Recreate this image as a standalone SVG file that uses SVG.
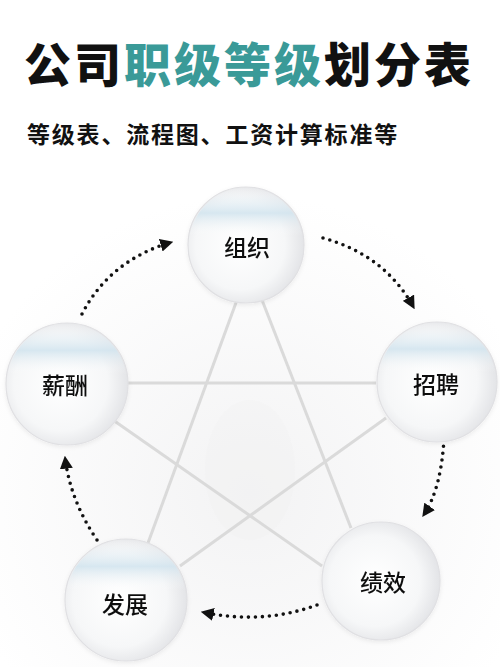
<svg xmlns="http://www.w3.org/2000/svg" width="500" height="667" viewBox="0 0 500 667">
<defs>
<style>
.title{font-family:"Noto Sans CJK SC","Noto Sans",sans-serif;font-weight:900;font-size:47px;}
.sub{font-family:"Noto Sans CJK SC","Noto Sans",sans-serif;font-weight:700;font-size:23px;fill:#111;}
.lbl{font-family:"Noto Sans CJK SC","Noto Sans",sans-serif;font-weight:500;font-size:23px;fill:#111;text-anchor:middle;dominant-baseline:central;}
.star{stroke:#dadada;stroke-width:3;fill:none;}
.dot{stroke:#111;stroke-width:3.6;stroke-linecap:round;stroke-dasharray:0 7;fill:none;}
.ball{fill:url(#ballG);stroke:#e0e0e3;stroke-width:1.2;}
.band{fill:url(#bandG);}
</style>
<radialGradient id="ballG" cx="0.45" cy="0.5" r="0.55">
<stop offset="0" stop-color="#ffffff"/>
<stop offset="0.7" stop-color="#f6f7f8"/>
<stop offset="1" stop-color="#e3e4e7"/>
</radialGradient>
<linearGradient id="bandG" x1="0" y1="0" x2="0" y2="1">
<stop offset="0" stop-color="#ffffff" stop-opacity="0"/>
<stop offset="0.1" stop-color="#e8f1f6" stop-opacity="0.5"/>
<stop offset="0.22" stop-color="#d3e5ef" stop-opacity="0.9"/>
<stop offset="0.32" stop-color="#e6eff4" stop-opacity="0.4"/>
<stop offset="0.42" stop-color="#ffffff" stop-opacity="0"/>
<stop offset="1" stop-color="#ffffff" stop-opacity="0"/>
</linearGradient>
<radialGradient id="bgG" cx="0.5" cy="0.65" r="0.6">
<stop offset="0" stop-color="#f3f3f4"/>
<stop offset="1" stop-color="#ffffff"/>
</radialGradient>
<marker id="arr" viewBox="0 0 10 10" refX="9" refY="5" markerWidth="13" markerHeight="13" markerUnits="userSpaceOnUse" orient="auto">
<path d="M0,0 L10,5 L0,10 z" fill="#111"/>
</marker>
<filter id="sh" x="-20%" y="-20%" width="140%" height="140%">
<feDropShadow dx="0" dy="1.5" stdDeviation="2" flood-color="#000" flood-opacity="0.07"/>
</filter>
</defs>
<rect width="500" height="667" fill="#ffffff"/>
<rect x="0" y="170" width="500" height="497" fill="url(#bgG)"/>
<ellipse cx="250" cy="470" rx="45" ry="70" fill="#f0f0f0" opacity="0.35"/>

<g id="title">
<text x="24" y="82" class="title" letter-spacing="3"><tspan fill="#111">公司</tspan><tspan fill="#3a9a98">职级等级</tspan><tspan fill="#111">划分表</tspan></text>
</g>
<g id="subtitle">
<text x="27" y="143" class="sub" letter-spacing="1.8">等级表、流程图、工资计算标准等</text>
</g>

<g id="connectors">
<line class="star" x1="128" y1="383" x2="376" y2="383"/>
<line class="star" x1="237" y1="300" x2="148" y2="543"/>
<line class="star" x1="262" y1="300" x2="351" y2="528"/>
<line class="star" x1="113" y1="420" x2="322" y2="566"/>
<line class="star" x1="386" y1="418" x2="180" y2="566"/>
<path class="dot" d="M82,314 Q110,260 172,242" marker-end="url(#arr)"/>
<path class="dot" d="M323,238 Q385,255 414,308" marker-end="url(#arr)"/>
<path class="dot" d="M444,439 Q441,490 423,516" marker-end="url(#arr)"/>
<path class="dot" d="M317,605 Q262,625 202,612" marker-end="url(#arr)"/>
<path class="dot" d="M97,540 Q70,500 65,457" marker-end="url(#arr)"/>
</g>

<g id="node-zuzhi" filter="url(#sh)">
<circle class="ball" cx="246" cy="245" r="58"/>
<circle class="band" cx="246" cy="245" r="57"/>
<text class="lbl" x="247" y="246">组织</text>
</g>
<g id="node-zhaopin" filter="url(#sh)">
<circle class="ball" cx="437" cy="382" r="60"/>
<circle class="band" cx="437" cy="382" r="59"/>
<text class="lbl" x="436" y="383">招聘</text>
</g>
<g id="node-jixiao" filter="url(#sh)">
<circle class="ball" cx="381" cy="581" r="59"/>
<text class="lbl" x="383" y="581">绩效</text>
</g>
<g id="node-fazhan" filter="url(#sh)">
<circle class="ball" cx="126" cy="600" r="61"/>
<circle class="band" cx="126" cy="600" r="60"/>
<text class="lbl" x="125" y="603">发展</text>
</g>
<g id="node-xinchou" filter="url(#sh)">
<circle class="ball" cx="67" cy="384" r="61"/>
<circle class="band" cx="67" cy="384" r="60"/>
<text class="lbl" x="65" y="384">薪酬</text>
</g>
</svg>
